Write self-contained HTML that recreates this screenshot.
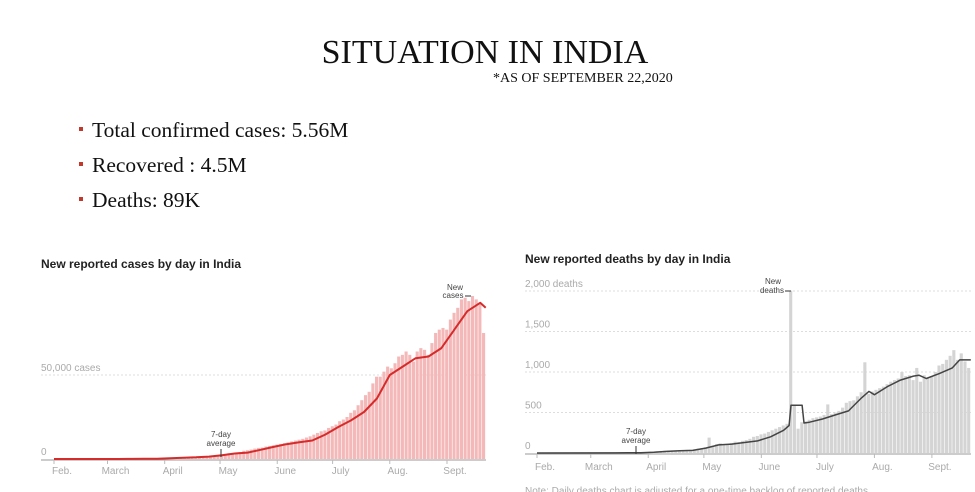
<!DOCTYPE html>
<html><head><meta charset="utf-8"><style>
body{margin:0;width:975px;height:492px;background:#fff;overflow:hidden}
svg{display:block}
.serif{font-family:"Liberation Serif",serif}
.sans{font-family:"Liberation Sans",sans-serif}
.ax{font-family:"Liberation Sans",sans-serif;font-size:10px;fill:#aaa}
.an{font-family:"Liberation Sans",sans-serif;font-size:8px;fill:#444}
</style></head><body>
<svg id="s" width="975" height="492">
<text class="serif" x="485" y="63" font-size="34" text-anchor="middle" fill="#111">SITUATION IN INDIA</text>
<text class="serif" x="493" y="82" font-size="14" fill="#111">*AS OF SEPTEMBER 22,2020</text>
<g>
<rect x="79" y="127" width="4" height="4" fill="#c0392b"/><text class="serif" x="92" y="137" font-size="21.5" fill="#111">Total confirmed cases: 5.56M</text>
<rect x="79" y="162" width="4" height="4" fill="#c0392b"/><text class="serif" x="92" y="172" font-size="21.5" fill="#111">Recovered : 4.5M</text>
<rect x="79" y="197" width="4" height="4" fill="#c0392b"/><text class="serif" x="92" y="207" font-size="21.5" fill="#111">Deaths: 89K</text>
</g>
<text class="sans" x="41" y="268" font-size="12" font-weight="bold" fill="#222">New reported cases by day in India</text>
<text class="sans" x="525" y="263" font-size="12" font-weight="bold" fill="#222">New reported deaths by day in India</text>
<g id="c1"></g>
<g id="c2"></g>
<text class="ax" x="525" y="494" font-size="8">Note: Daily deaths chart is adjusted for a one-time backlog of reported deaths.</text>
</svg>
<script>
const months=["Feb.","March","April","May","June","July","Aug.","Sept."];
const monthDays=[0,29,60,90,121,151,182,213];
const caseBars=[0,0,0,0,0,0,0,0,0,0,0,0,0,0,0,0,0,0,0,0,0,0,0.05,0.05,0.05,0.08,0.08,0.1,0.1,0.1,
0.4,0.5,0.6,0.8,0.9,1.0,1.1,1.2,1.4,1.5,1.6,1.8,1.9,2.0,2.2,
2.5,3.0,3.4,3.6,3.9,4.2,4.9,5.2,5.6,6.2,6.6,6.8,7.4,7.8,8.2,8.6,
9.0,9.5,9.9,10.5,11.0,11.5,12.0,12.8,13.5,14.5,15.5,16.5,17.0,18.5,19.5,
20.5,22.5,23.5,25.0,27.5,29.0,32.0,35.0,38.0,40.0,45.0,49.0,49.0,52.0,55.0,
54.0,57.0,61.0,62.0,64.0,62.0,58.0,64.0,66.0,65.0,62.0,69.0,75.0,77.0,78.0,77.0,
83.0,87.0,90.0,95.0,96.0,94.0,97.0,95.0,93.0,75.0];
const caseAvgDays=[0,7,14,21,28,35,42,49,56,63,70,77,84,91,98,105,112,119,126,133,140,147,154,161,168,175,182,189,196,203,210,217,224,231,234];
const caseAvg=[0,0,0,0,0,0,0.05,0.1,0.2,0.5,0.8,1.0,1.4,2.2,3.3,3.8,5.5,7.2,8.8,10,11,14.5,19,23,28,36,50,55,60,61,66,77,88,93,90];
const deathBars=[0,0,0,0,0,0,0,0,0,0,0,0,0,0,0,0,0,0,0,0,0,
2,2,3,4,5,6,8,10,12,
15,18,22,26,28,30,32,33,35,36,38,40,45,55,60,
70,190,90,110,120,100,110,125,140,135,150,160,175,200,210,230,
240,260,280,300,320,340,360,2003,590,300,380,390,410,430,440,
450,470,600,480,500,520,560,620,640,650,700,750,1120,730,760,
780,800,820,850,880,900,920,1000,950,960,900,1050,880,960,930,950,
1000,1080,1100,1150,1200,1270,1150,1230,1130,1050];
const deathAvgDays=[0,42,49,56,63,70,77,84,91,98,105,112,119,126,133,136,137,143,144,147,154,161,168,175,179,182,189,196,203,206,210,217,224,228,234];
const deathAvg=[0,1,2,4,10,20,28,32,60,100,110,130,150,200,280,340,590,590,370,380,420,470,520,680,760,720,820,900,950,960,920,980,1050,1150,1150];
const NS="http://www.w3.org/2000/svg";
function mk(p,t,a){const e=document.createElementNS(NS,t);for(const k in a)e.setAttribute(k,a[k]);p.appendChild(e);return e;}
function chart(g,o){
  const x=d=>o.x0+d*o.pd, y=v=>o.y0-v*o.py;
  o.ticks.forEach((t,i)=>{
    if(t.v>0){const l=mk(g,'line',{x1:o.gx0,x2:o.gx1,y1:y(t.v),y2:y(t.v),stroke:'#ddd','stroke-dasharray':'2,2'});
    
    }
    const tx=mk(g,'text',{x:o.gx0,y:y(t.v)-4,class:'ax'});tx.textContent=t.l;
    
    
  });
  o.bars.forEach((v,i)=>{
    const d=i*2;const r=mk(g,'rect',{x:x(d),y:y(v),width:o.pd*2-0.6,height:Math.max(0,y(0)-y(v)),fill:o.barCol});
    
    
  });
  mk(g,'line',{x1:o.gx0,x2:o.gx1,y1:y(0)+1,y2:y(0)+1,stroke:'#999','stroke-width':1});
  let p='';o.avgD.forEach((d,i)=>{p+=(i?'L':'M')+x(d).toFixed(1)+','+y(o.avg[i]).toFixed(1);});
  const pl=mk(g,'path',{d:p,fill:'none',stroke:o.lineCol,'stroke-width':o.lw,'stroke-linejoin':'round'});
  
  
  months.forEach((m,i)=>{
    mk(g,'line',{x1:x(monthDays[i]),x2:x(monthDays[i]),y1:y(0)+1,y2:y(0)+5,stroke:'#bbb'});
    const t=mk(g,'text',{x:x(monthDays[i])+8,y:o.my,class:'ax','text-anchor':'middle'});t.textContent=m;
    
    
  });
}
const c1=document.getElementById('c1'),c2=document.getElementById('c2');
chart(c1,{x0:54,pd:1.845,y0:459,py:84/50,gx0:41,gx1:486,bars:caseBars,avgD:caseAvgDays,avg:caseAvg,barCol:'#f4b8b8',lineCol:'#d62b2b',lw:2,my:474,
 ticks:[{v:0,l:'0'},{v:50,l:'50,000 cases'}]});
chart(c2,{x0:537,pd:1.854,y0:453,py:162/2000,gx0:525,gx1:971,bars:deathBars,avgD:deathAvgDays,avg:deathAvg,barCol:'#d4d4d4',lineCol:'#444',lw:1.5,my:470,
 ticks:[{v:0,l:'0'},{v:500,l:'500'},{v:1000,l:'1,000'},{v:1500,l:'1,500'},{v:2000,l:'2,000 deaths'}]});
function ann(g,x,y1,y2,lines){mk(g,'line',{x1:x,x2:x,y1:y1,y2:y2,stroke:'#333'});
 lines.forEach((s,i)=>{const t=mk(g,'text',{x:x,y:y1-12+i*9,class:'an','text-anchor':'middle'});t.textContent=s;
 
 });}
ann(c1,221,449,457,['7-day','average']);
ann(c2,636,446,454,['7-day','average']);
let t;
t=mk(c1,'text',{x:455,y:290,class:'an','text-anchor':'middle'});t.textContent='New';


t=mk(c1,'text',{x:453,y:298,class:'an','text-anchor':'middle'});t.textContent='cases';
mk(c1,'line',{x1:465,x2:471,y1:296,y2:296,stroke:'#333'});
t=mk(c2,'text',{x:773,y:284,class:'an','text-anchor':'middle'});t.textContent='New';


t=mk(c2,'text',{x:772,y:293,class:'an','text-anchor':'middle'});t.textContent='deaths';
mk(c2,'line',{x1:785,x2:791,y1:291,y2:291,stroke:'#333'});
</script>
</body></html>
